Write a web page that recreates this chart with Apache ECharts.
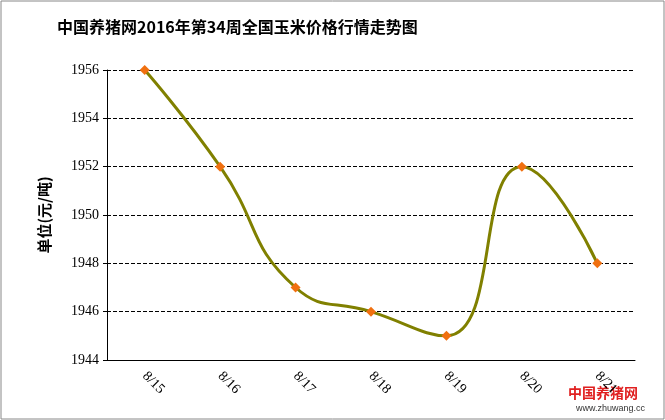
<!DOCTYPE html>
<html><head><meta charset="utf-8">
<script src="https://cdn.jsdelivr.net/npm/echarts@6/dist/echarts.min.js"></script>
<style>html,body{margin:0;padding:0;background:#fff}#c{width:665px;height:420px}</style>
</head><body><div id="c"></div>
<script>
const categories = ['8/15','8/16','8/17','8/18','8/19','8/20','8/21'];
const prices = [1956, 1952, 1947, 1946, 1945, 1952, 1948];
const chart = echarts.init(document.getElementById('c'));
chart.setOption({
  animation:false,
  title:{text:'中国养猪网2016年第34周全国玉米价格行情走势图',left:52,top:14,
    textStyle:{fontFamily:'Noto Sans CJK SC',fontSize:16,fontWeight:'bold',color:'#000'}},
  graphic:[
    {type:'rect',shape:{x:1,y:1,width:663,height:418},style:{fill:'none',stroke:'#888',lineWidth:1}},
    {type:'text',left:568,top:386,style:{text:'中国养猪网',fill:'#e02020',font:'bold 14px "Noto Sans CJK SC"'}},
    {type:'text',left:576,top:404,style:{text:'www.zhuwang.cc',fill:'#333',font:'9px sans-serif'}}
  ],
  grid:{left:107,right:30,top:70,bottom:60},
  xAxis:{type:'category',data:categories,boundaryGap:true,
    axisLine:{lineStyle:{color:'#000'}},axisTick:{show:false},
    axisLabel:{rotate:-45,color:'#000',fontFamily:'Times New Roman, Liberation Serif',fontSize:14,margin:14}},
  yAxis:{type:'value',min:1944,max:1956,interval:2,name:'单位(元/吨)',nameLocation:'middle',nameGap:55,
    nameTextStyle:{fontFamily:'Noto Sans CJK SC',fontSize:15,fontWeight:'bold',color:'#000'},
    axisLine:{show:true,lineStyle:{color:'#000'}},axisTick:{show:true,length:4,lineStyle:{color:'#000'}},
    axisLabel:{color:'#000',fontFamily:'Times New Roman, Liberation Serif',fontSize:14,formatter:v=>String(v)},
    splitLine:{lineStyle:{color:'#000',type:'dashed'}}},
  series:[{type:'line',data:prices,smooth:0.5,symbol:'diamond',symbolSize:10,
    lineStyle:{color:'#808000',width:3},itemStyle:{color:'#f07010'}}]
});
</script></body></html>
